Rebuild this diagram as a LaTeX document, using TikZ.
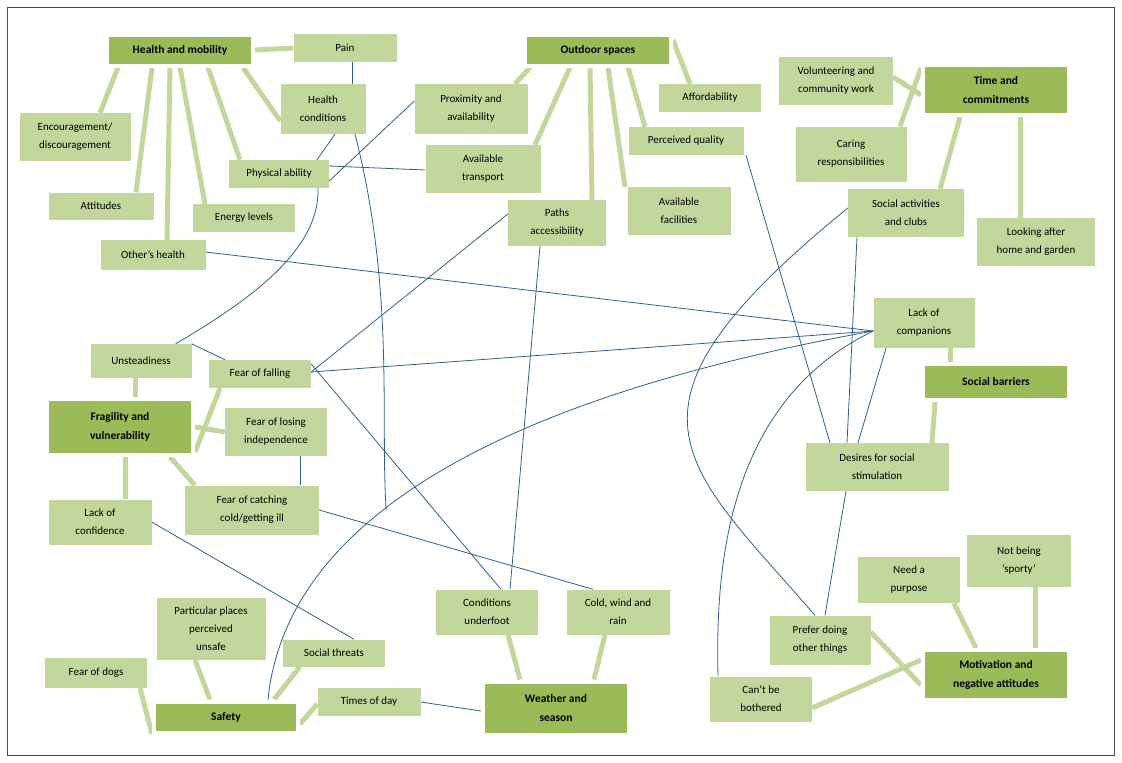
\documentclass[tikz,border=0pt]{standalone}
\usepackage{fontspec}
\setmainfont{Carlito}
\usetikzlibrary{backgrounds,shadows}

\definecolor{subgreen}{HTML}{C3D69B}
\definecolor{hubgreen}{HTML}{9BBB59}
\definecolor{linkblue}{HTML}{2F5F8F}

\tikzset{
  sub/.style={fill=subgreen, inner sep=2pt, align=center, font=\fontsize{11}{18}\selectfont},
  hub/.style={fill=hubgreen, draw=white, line width=4pt, align=center, inner sep=2pt,
    drop shadow={shadow xshift=2pt, shadow yshift=-2pt, fill=black!35},
    font=\bfseries\fontsize{11.5}{19}\selectfont},
  branch/.style={subgreen, line width=5pt},
  link/.style={linkblue, line width=0.8pt}
}

\begin{document}
\begin{tikzpicture}[x=1pt,y=-1pt]

% frame of the page
\useasboundingbox (0,0) rectangle (1122,763);
\draw[black!70, line width=0.8pt] (7,7) rectangle (1114,755);

% main themes
\node[hub, minimum width=146, minimum height=31] (health) at (180,50) {Health and mobility};
\node[hub, minimum width=146, minimum height=31] (outdoor) at (598,50) {Outdoor spaces};
\node[hub, minimum width=146, minimum height=50] (time) at (996,90) {Time and\\commitments};
\node[hub, minimum width=146, minimum height=36] (social) at (996,382) {Social barriers};
\node[hub, minimum width=146, minimum height=56] (fragile) at (120,427) {Fragility and\\vulnerability};
\node[hub, minimum width=144, minimum height=31] (safety) at (226,717) {Safety};
\node[hub, minimum width=146, minimum height=53] (weather) at (556,708) {Weather and\\season};
\node[hub, minimum width=146, minimum height=50] (motiv) at (996,675) {Motivation and\\negative attitudes};

% health and mobility
\node[sub, minimum width=103, minimum height=28] (pain) at (345,48) {Pain};
\node[sub, minimum width=85, minimum height=50] (condit) at (323,109) {Health\\conditions};
\node[sub, minimum width=111, minimum height=48] (encour) at (75,137) {Encouragement/\\discouragement};
\node[sub, minimum width=105, minimum height=27] (attit) at (101,206) {Attitudes};
\node[sub, minimum width=100, minimum height=28] (physab) at (279,174) {Physical ability};
\node[sub, minimum width=102, minimum height=28] (energy) at (244,218) {Energy levels};
\node[sub, minimum width=105, minimum height=30] (others) at (153,255) {Other's health};

% outdoor spaces
\node[sub, minimum width=113, minimum height=50] (proxim) at (471,109) {Proximity and\\availability};
\node[sub, minimum width=115, minimum height=48] (transp) at (483,169) {Available\\transport};
\node[sub, minimum width=102, minimum height=28] (afford) at (710,98) {Affordability};
\node[sub, minimum width=115, minimum height=28] (quality) at (686,141) {Perceived quality};
\node[sub, minimum width=98, minimum height=46] (paths) at (557,223) {Paths\\accessibility};
\node[sub, minimum width=103, minimum height=48] (facil) at (679,211) {Available\\facilities};

% time and commitments
\node[sub, minimum width=114, minimum height=48] (volunt) at (836,81) {Volunteering and\\community work};
\node[sub, minimum width=111, minimum height=55] (caring) at (851,154) {Caring\\responsibilities};
\node[sub, minimum width=116, minimum height=48] (clubs) at (906,213) {Social activities\\and clubs};
\node[sub, minimum width=118, minimum height=48] (home) at (1036,242) {Looking after\\home and garden};

% social barriers
\node[sub, minimum width=101, minimum height=50] (compan) at (924,323) {Lack of\\companions};
\node[sub, minimum width=143, minimum height=48] (desire) at (877,467) {Desires for social\\stimulation};

% fragility and vulnerability
\node[sub, minimum width=101, minimum height=34] (unsteady) at (141,361) {Unsteadiness};
\node[sub, minimum width=102, minimum height=28] (falling) at (260,374) {Fear of falling};
\node[sub, minimum width=102, minimum height=48] (independ) at (276,432) {Fear of losing\\independence};
\node[sub, minimum width=134, minimum height=49] (cold) at (252,510) {Fear of catching\\cold/getting ill};
\node[sub, minimum width=103, minimum height=45] (confid) at (100,522) {Lack of\\confidence};

% safety
\node[sub, minimum width=109, minimum height=62] (places) at (211,629) {Particular places\\perceived\\unsafe};
\node[sub, minimum width=102, minimum height=30] (dogs) at (96,673) {Fear of dogs};
\node[sub, minimum width=102, minimum height=27] (threats) at (334,653) {Social threats};
\node[sub, minimum width=103, minimum height=28] (daytime) at (369,702) {Times of day};

% weather and season
\node[sub, minimum width=102, minimum height=45] (under) at (487,612) {Conditions\\underfoot};
\node[sub, minimum width=103, minimum height=45] (wind) at (618,612) {Cold, wind and\\rain};

% motivation and negative attitudes
\node[sub, minimum width=102, minimum height=46] (purpose) at (909,580) {Need a\\purpose};
\node[sub, minimum width=104, minimum height=52] (sporty) at (1019,561) {Not being\\'sporty'};
\node[sub, minimum width=101, minimum height=49] (prefer) at (820,640) {Prefer doing\\other things};
\node[sub, minimum width=102, minimum height=45] (bother) at (761,699) {Can't be\\bothered};

\begin{scope}[on background layer]
% theme branches
\draw[branch] (health.east) -- (pain.west);
\draw[branch] ([xshift=-62]health.south) -- ([xshift=25]encour.north);
\draw[branch] ([xshift=-28]health.south) -- ([xshift=35]attit.north);
\draw[branch] ([xshift=-10]health.south) -- ([xshift=14]others.north);
\draw[branch] ([xshift=0]health.south) -- ([xshift=-39]energy.north);
\draw[branch] ([xshift=28]health.south) -- ([xshift=-39]physab.north);
\draw[branch] ([xshift=63]health.south) -- ([yshift=-12]condit.west);

\draw[branch] ([xshift=-68]outdoor.south) -- ([xshift=44]proxim.north);
\draw[branch] ([xshift=-28]outdoor.south) -- ([xshift=52]transp.north);
\draw[branch] ([xshift=-8]outdoor.south) -- ([xshift=35]paths.north);
\draw[branch] ([xshift=10]outdoor.south) -- ([xshift=-54]facil.north);
\draw[branch] ([xshift=30]outdoor.south) -- ([xshift=-41]quality.north);
\draw[branch] ([yshift=10]outdoor.east) -- ([xshift=-20]afford.north);

\draw[branch] ([yshift=-5]time.west) -- ([yshift=4]volunt.east);
\draw[branch] ([yshift=22]time.west) -- ([xshift=49]caring.north);
\draw[branch] ([xshift=-36]time.south) -- ([xshift=34]clubs.north);
\draw[branch] ([xshift=24]time.south) -- ([xshift=-16]home.north);

\draw[branch] ([xshift=-46]social.north) -- ([xshift=26]compan.south);
\draw[branch] ([xshift=-61]social.south) -- ([xshift=55]desire.north);

\draw[branch] ([xshift=15]fragile.north) -- ([xshift=-6]unsteady.south);
\draw[branch] ([yshift=-25]fragile.east) -- ([xshift=-40]falling.south);
\draw[branch] (fragile.east) -- (independ.west);
\draw[branch] ([xshift=50]fragile.south) -- ([xshift=-57]cold.north);
\draw[branch] ([xshift=5]fragile.south) -- ([xshift=25]confid.north);

\draw[branch] ([yshift=-17]safety.west) -- ([xshift=44]dogs.south);
\draw[branch] ([xshift=-16]safety.north) -- ([xshift=-16]places.south);
\draw[branch] ([xshift=48]safety.north) -- ([xshift=-34]threats.south);
\draw[branch] ([yshift=-7]safety.east) -- ([yshift=-2]daytime.west);

\draw[branch] ([xshift=-36]weather.north) -- ([xshift=21]under.south);
\draw[branch] ([xshift=38]weather.north) -- ([xshift=-13]wind.south);

\draw[branch] ([xshift=-20]motiv.north) -- ([xshift=45]purpose.south);
\draw[branch] ([xshift=39]motiv.north) -- ([xshift=16]sporty.south);
\draw[branch] ([yshift=-10]motiv.west) -- ([yshift=8]prefer.east);
\draw[branch] ([yshift=15]motiv.west) -- ([yshift=-9]bother.east);

% cross links
\draw[link] ([xshift=7]pain.south) -- ([xshift=29]condit.north);
\draw[link] ([xshift=12]condit.south) -- ([xshift=38]physab.north);
\draw[link] ([xshift=32]condit.south) .. controls (395,290) and (380,420) .. ([xshift=67]cold.east);
\draw[link] ([xshift=39]physab.south) .. controls (320,250) and (250,300) .. ([xshift=-16]unsteady.north east);
\draw[link] (unsteady.north east) -- ([xshift=-35]falling.north);
\draw[link] ([yshift=-7]physab.east) -- ([yshift=8]proxim.west);
\draw[link] ([yshift=8]physab.east) -- ([yshift=-1]transp.west);
\draw[link] ([yshift=3]others.east) -- ([yshift=-8]compan.west);
\draw[link] ([yshift=2]falling.east) -- ([yshift=-8]compan.west);
\draw[link] ([yshift=2]falling.east) -- ([yshift=9]paths.west);
\draw[link] ([yshift=10]falling.east) -- ([xshift=14]under.north);
\draw[link] ([xshift=24]independ.south) -- ([xshift=48]cold.north);
\draw[link] (cold.east) -- ([xshift=-25]wind.north);
\draw[link] (confid.east) -- ([xshift=20]threats.north);
\draw[link] ([xshift=42]safety.north) .. controls (290,480) and (600,380) .. ([yshift=-8]compan.west);
\draw[link] ([xshift=-17]paths.south) -- ([xshift=23]under.north);
\draw[link] ([xshift=60]quality.south) -- ([xshift=-47]desire.north);
\draw[link] ([yshift=5]clubs.west) .. controls (600,410) and (680,460) .. ([xshift=-5]prefer.north);
\draw[link] ([yshift=-8]compan.west) .. controls (730,400) and (715,560) .. ([xshift=-43]bother.north);
\draw[link] ([xshift=-49]clubs.south) -- ([xshift=-30]desire.north);
\draw[link] ([xshift=-38]compan.south) -- ([xshift=-19]desire.north);
\draw[link] ([xshift=-31]desire.south) -- ([xshift=5]prefer.north);
\draw[link] (daytime.east) -- ([yshift=-3]weather.west);
\end{scope}

\end{tikzpicture}
\end{document}
